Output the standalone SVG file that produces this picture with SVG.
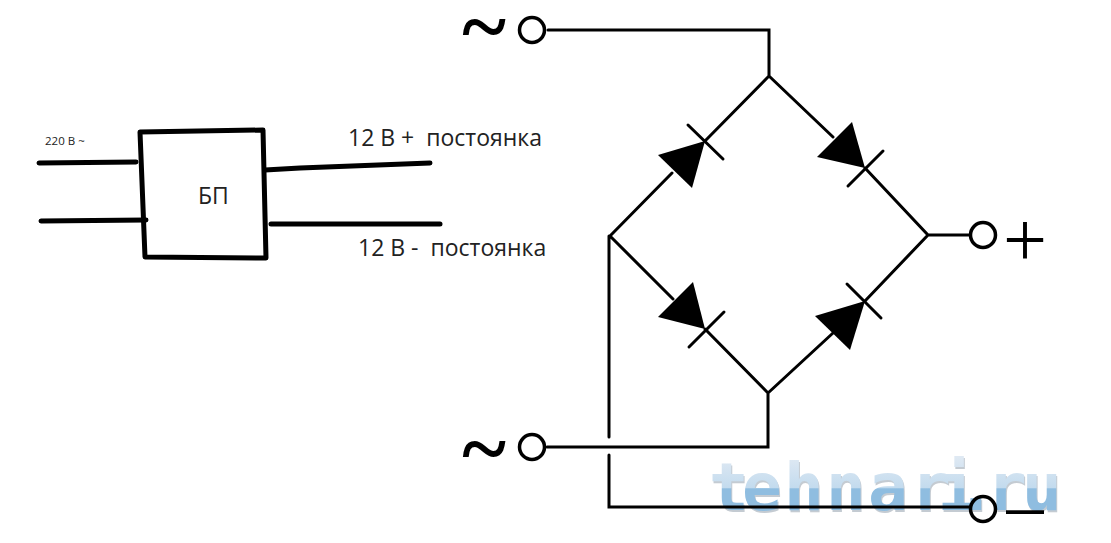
<svg xmlns="http://www.w3.org/2000/svg" width="1111" height="543" viewBox="0 0 1111 543">
<style>
.w{fill:none;stroke:#000;stroke-width:3;stroke-linecap:round;stroke-linejoin:miter}
.h{fill:none;stroke:#000;stroke-width:5;stroke-linecap:round;stroke-linejoin:round}
.c{fill:none;stroke:#000;stroke-width:3.5}
.d{fill:#000}
.l{font-family:"Open Sans","Noto Sans",sans-serif;fill:#222;white-space:pre}
.s{font-family:"Liberation Serif",serif;fill:#000}
.m{font-family:"DejaVu Sans Mono",monospace;font-weight:bold;font-size:66px}
</style>
<defs>
<linearGradient id="wm" gradientUnits="userSpaceOnUse" x1="0" y1="457" x2="0" y2="510">
<stop offset="0" stop-color="#dfe9f3"/><stop offset="0.58" stop-color="#c3dbee"/><stop offset="0.6" stop-color="#8fbde0"/><stop offset="1" stop-color="#8fbde0"/>
</linearGradient>
</defs>
<rect width="1111" height="543" fill="#fff"/>
<g id="watermark">
<text class="m" x="710 743 785 827 869 912 939 957 988 1023" y="511.500" fill="#8a98a6" opacity="0.5">tehnari.ru</text>
<text class="m" x="709 742 784 826 868 911 938 956 987 1022" y="510" fill="url(#wm)">tehnari.ru</text>
</g>
<g id="connectors">
<path class="h" d="M39 163 136 162M41 221 146 220M265 170 300 168 430 163M271 224 440 224"/>
<path class="w" d="M548 30H769V76L705 141M672 173 610 236M769 76 833 137M865 168 928 235H970M610 236 673 299M705 329 768 393 833 333M865 301 928 235M768 393V447H547M609 236V437M609 455V507H970"/>
</g>
<g id="psu">
<path class="h" d="M140 132 263 130 266 258 145 257Z"/>
<text class="l" x="198" y="204" font-size="23">БП</text>
</g>
<g id="labels">
<text class="l" x="45" y="145" font-size="11.500">220 В ~</text>
<text class="l" x="348" y="146" font-size="23">12 В +  постоянка</text>
<text class="l" x="358" y="256" font-size="23">12 В -  постоянка</text>
</g>
<g id="diode-ul"><path class="d" d="M705 141 658 155 692 188Z"/><path class="w" d="M688 125 723 159"/></g>
<g id="diode-ur"><path class="d" d="M865 168 852 122 817 157Z"/><path class="w" d="M883 151 848 186"/></g>
<g id="diode-ll"><path class="d" d="M705 329 693 282 658 317Z"/><path class="w" d="M724 312 689 347"/></g>
<g id="diode-lr"><path class="d" d="M865 301 815 316 850 350Z"/><path class="w" d="M847 284 881 318"/></g>
<g id="term-ac-top"><circle class="c" cx="532" cy="30" r="12.500"/><text class="s" x="484" y="55" font-size="84" font-weight="bold" text-anchor="middle">~</text></g>
<g id="term-ac-bottom"><circle class="c" cx="532" cy="447" r="12.500"/><text class="s" x="484" y="477" font-size="84" font-weight="bold" text-anchor="middle">~</text></g>
<g id="term-plus"><circle class="c" cx="983" cy="235" r="12.500"/><text class="s" x="1025" y="266" font-size="78" text-anchor="middle">+</text></g>
<g id="term-minus"><circle class="c" cx="983" cy="509" r="12.500"/><text class="s" x="1025" y="529" font-size="74" text-anchor="middle">–</text></g>
</svg>
